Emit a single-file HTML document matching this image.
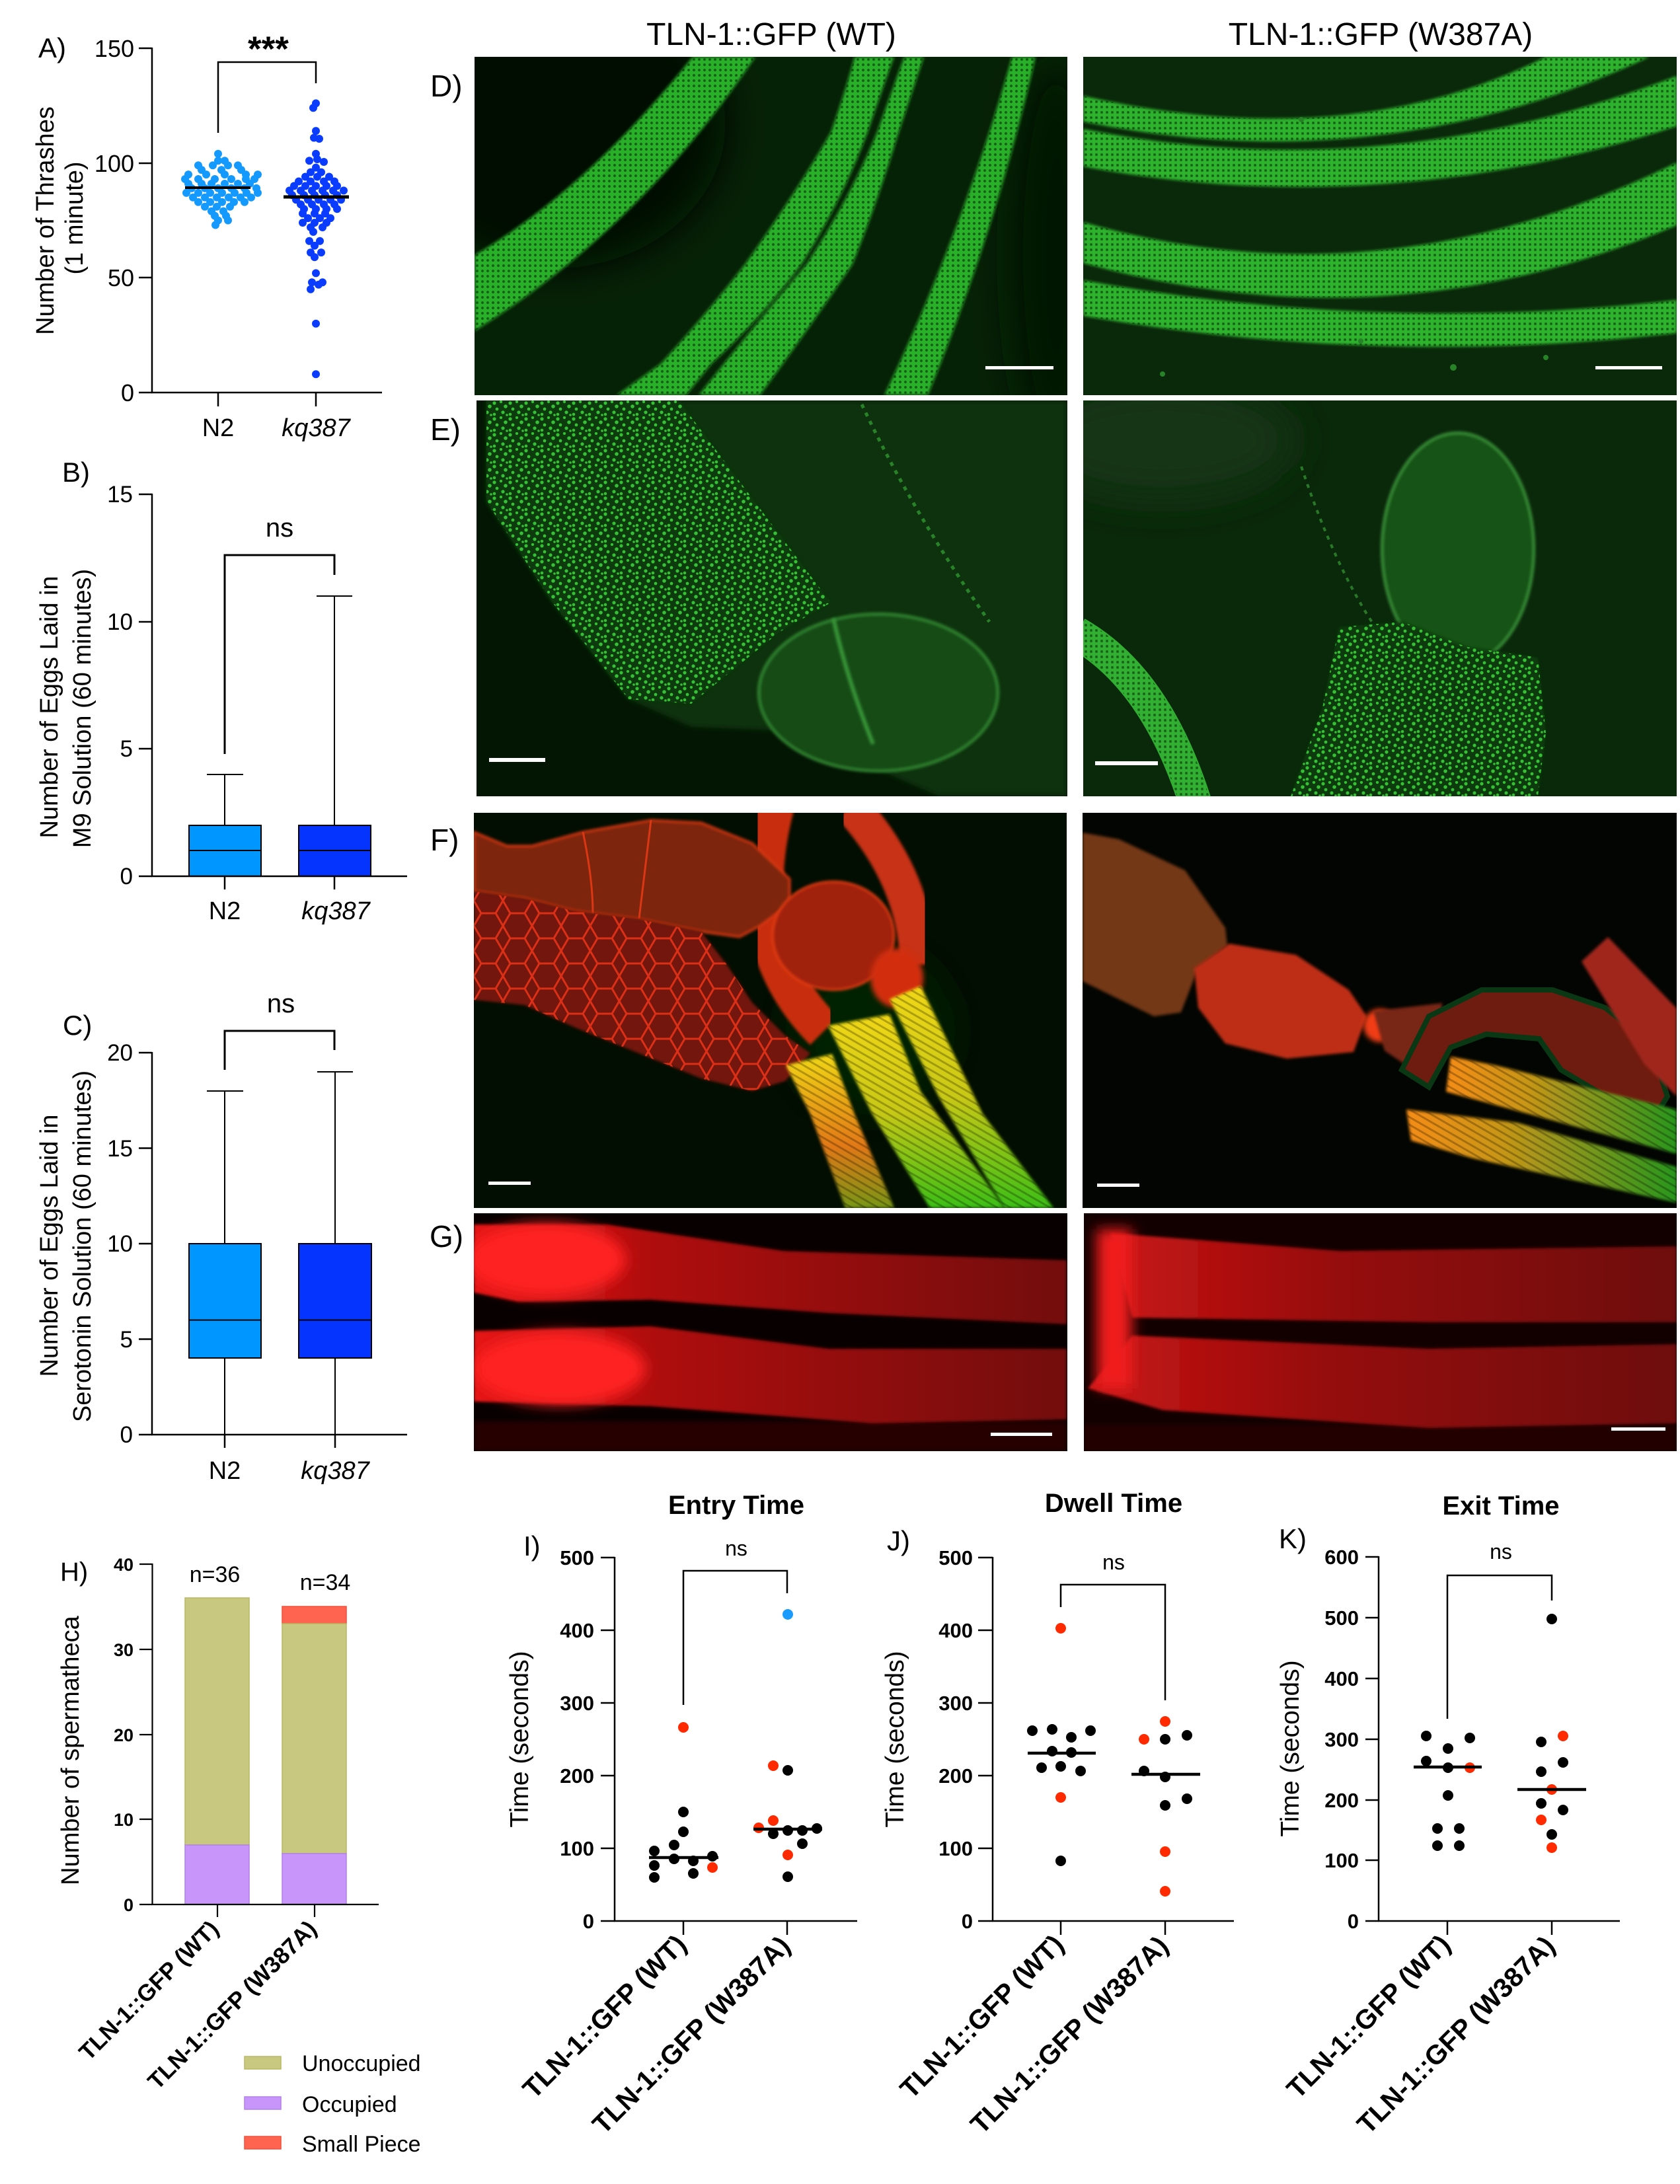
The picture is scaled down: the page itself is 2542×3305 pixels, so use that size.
<!DOCTYPE html>
<html><head><meta charset="utf-8"><style>html,body{margin:0;padding:0;background:#fff}svg{display:block}</style></head>
<body>
<svg xmlns="http://www.w3.org/2000/svg" width="2542" height="3305" viewBox="0 0 2542 3305" font-family="'Liberation Sans', Arial, sans-serif">
<defs>
<filter id="b2" x="-10%" y="-10%" width="120%" height="120%"><feGaussianBlur stdDeviation="2"/></filter>
<filter id="b4" x="-20%" y="-20%" width="140%" height="140%"><feGaussianBlur stdDeviation="4"/></filter>
<filter id="b10" x="-50%" y="-50%" width="200%" height="200%"><feGaussianBlur stdDeviation="10"/></filter>
<filter id="b30" x="-80%" y="-80%" width="260%" height="260%"><feGaussianBlur stdDeviation="30"/></filter>
<pattern id="spk" width="24" height="24" patternUnits="userSpaceOnUse"><g fill="rgb(60,215,60)"><circle cx="3" cy="4" r="2.6"/><circle cx="13" cy="2" r="2.2"/><circle cx="20" cy="9" r="2.8"/><circle cx="7" cy="13" r="2.4"/><circle cx="16" cy="18" r="2.6"/><circle cx="22" cy="22" r="1.8"/><circle cx="3" cy="21" r="2.3"/></g></pattern>
<pattern id="dkd" width="8" height="8" patternUnits="userSpaceOnUse"><circle cx="4" cy="4" r="2" fill="rgb(0,40,0)" opacity="0.55"/></pattern>
<pattern id="cells" width="44" height="38" patternUnits="userSpaceOnUse"><path d="M0 19 L11 0 L33 0 L44 19 L33 38 L11 38 Z" fill="none" stroke="rgb(245,55,25)" stroke-width="3"/></pattern>
<pattern id="musc" width="10" height="10" patternUnits="userSpaceOnUse" patternTransform="rotate(30)"><rect width="10" height="3" fill="rgba(0,0,0,0.25)"/></pattern>
<linearGradient id="ylg" x1="0" y1="0" x2="0" y2="1"><stop offset="0" stop-color="rgb(240,215,25)"/><stop offset="0.5" stop-color="rgb(200,200,20)"/><stop offset="1" stop-color="rgb(60,190,20)"/></linearGradient>
<linearGradient id="yla" x1="0" y1="0" x2="0" y2="1"><stop offset="0" stop-color="rgb(240,215,25)"/><stop offset="0.6" stop-color="rgb(225,120,20)"/><stop offset="1" stop-color="rgb(120,150,20)"/></linearGradient>
<linearGradient id="oglr" x1="0" y1="0" x2="1" y2="0"><stop offset="0" stop-color="rgb(245,140,20)"/><stop offset="0.35" stop-color="rgb(200,150,25)"/><stop offset="1" stop-color="rgb(40,150,30)"/></linearGradient>
<linearGradient id="gr1" x1="0" y1="0" x2="1" y2="0"><stop offset="0" stop-color="rgb(230,25,25)"/><stop offset="0.3" stop-color="rgb(175,15,15)"/><stop offset="1" stop-color="rgb(115,8,8)"/></linearGradient>
<linearGradient id="gr2" x1="0" y1="0" x2="1" y2="0"><stop offset="0" stop-color="rgb(200,20,20)"/><stop offset="0.4" stop-color="rgb(150,14,14)"/><stop offset="1" stop-color="rgb(110,10,10)"/></linearGradient>
</defs>
<rect width="2542" height="3305" fill="#fff"/>

<!-- ================= PANEL A ================= -->
<g fill="#000">
<text x="58" y="87" font-size="42">A)</text>
<g font-size="36" text-anchor="end"><text x="203" y="86">150</text><text x="203" y="260">100</text><text x="203" y="433">50</text><text x="203" y="607">0</text></g>
<text transform="translate(81,334) rotate(-90)" text-anchor="middle" font-size="38">Number of Thrashes</text>
<text transform="translate(125,330) rotate(-90)" text-anchor="middle" font-size="38">(1 minute)</text>
<text x="330" y="660" text-anchor="middle" font-size="38">N2</text>
<text x="478" y="660" text-anchor="middle" font-size="38" font-style="italic">kq387</text>
<text x="406" y="92" text-anchor="middle" font-size="53" font-weight="bold">***</text>
</g>
<g stroke="#000" stroke-width="2.5" fill="none">
<path d="M230 72 V594 H578"/>
<path d="M210 73H230M210 247H230M210 420H230M210 594H230M330 594V615M478 594V615"/>
<path d="M330 201 V94 H478 V126"/>
</g>
<g fill="#1499ff">
<circle cx="330" cy="232.8" r="6"/>
<circle cx="330" cy="243.2" r="6"/><circle cx="340" cy="243.2" r="6"/>
<circle cx="300" cy="250.2" r="6"/><circle cx="322" cy="250.2" r="6"/><circle cx="345" cy="250.2" r="6"/><circle cx="360" cy="250.2" r="6"/>
<circle cx="305" cy="257.1" r="6"/><circle cx="335" cy="257.1" r="6"/><circle cx="365" cy="257.1" r="6"/>
<circle cx="285" cy="264.1" r="6"/><circle cx="312" cy="264.1" r="6"/><circle cx="340" cy="264.1" r="6"/><circle cx="372" cy="264.1" r="6"/><circle cx="390" cy="264.1" r="6"/>
<circle cx="280" cy="271" r="6"/><circle cx="300" cy="271" r="6"/><circle cx="325" cy="271" r="6"/><circle cx="350" cy="271" r="6"/><circle cx="372" cy="271" r="6"/><circle cx="385" cy="271" r="6"/>
<circle cx="285" cy="278" r="6"/><circle cx="305" cy="278" r="6"/><circle cx="320" cy="278" r="6"/><circle cx="340" cy="278" r="6"/><circle cx="360" cy="278" r="6"/><circle cx="378" cy="278" r="6"/>
<circle cx="290" cy="284.9" r="6"/><circle cx="310" cy="284.9" r="6"/><circle cx="330" cy="284.9" r="6"/><circle cx="350" cy="284.9" r="6"/><circle cx="370" cy="284.9" r="6"/><circle cx="388" cy="284.9" r="6"/>
<circle cx="282" cy="291.9" r="6"/><circle cx="300" cy="291.9" r="6"/><circle cx="318" cy="291.9" r="6"/><circle cx="336" cy="291.9" r="6"/><circle cx="355" cy="291.9" r="6"/><circle cx="373" cy="291.9" r="6"/><circle cx="390" cy="291.9" r="6"/>
<circle cx="292" cy="298.8" r="6"/><circle cx="310" cy="298.8" r="6"/><circle cx="328" cy="298.8" r="6"/><circle cx="346" cy="298.8" r="6"/><circle cx="364" cy="298.8" r="6"/><circle cx="380" cy="298.8" r="6"/>
<circle cx="300" cy="305.7" r="6"/><circle cx="318" cy="305.7" r="6"/><circle cx="336" cy="305.7" r="6"/><circle cx="354" cy="305.7" r="6"/><circle cx="370" cy="305.7" r="6"/>
<circle cx="310" cy="312.7" r="6"/><circle cx="328" cy="312.7" r="6"/><circle cx="348" cy="312.7" r="6"/>
<circle cx="320" cy="319.6" r="6"/><circle cx="338" cy="319.6" r="6"/>
<circle cx="325" cy="326.6" r="6"/><circle cx="342" cy="326.6" r="6"/>
<circle cx="330" cy="333.5" r="6"/><circle cx="345" cy="333.5" r="6"/>
<circle cx="326" cy="340.5" r="6"/>
</g>
<g fill="#0a3cff">
<circle cx="478" cy="156.4" r="6"/><circle cx="474" cy="163.3" r="6"/><circle cx="478" cy="198.1" r="6"/>
<circle cx="475" cy="208.5" r="6"/><circle cx="483" cy="210" r="6"/><circle cx="478" cy="232.8" r="6"/>
<circle cx="468" cy="243.2" r="6"/><circle cx="480" cy="241" r="6"/><circle cx="490" cy="245" r="6"/>
<circle cx="478" cy="253.6" r="6"/><circle cx="470" cy="260.6" r="6"/><circle cx="486" cy="260.6" r="6"/>
<circle cx="462" cy="267.5" r="6"/><circle cx="480" cy="267.5" r="6"/><circle cx="498" cy="267.5" r="6"/>
<circle cx="452" cy="274.5" r="6"/><circle cx="470" cy="274.5" r="6"/><circle cx="490" cy="274.5" r="6"/><circle cx="506" cy="274.5" r="6"/>
<circle cx="445" cy="281.4" r="6"/><circle cx="462" cy="281.4" r="6"/><circle cx="478" cy="281.4" r="6"/><circle cx="494" cy="281.4" r="6"/><circle cx="510" cy="281.4" r="6"/>
<circle cx="438" cy="288.4" r="6"/><circle cx="455" cy="288.4" r="6"/><circle cx="472" cy="288.4" r="6"/><circle cx="488" cy="288.4" r="6"/><circle cx="504" cy="288.4" r="6"/><circle cx="520" cy="288.4" r="6"/>
<circle cx="442" cy="295.3" r="6"/><circle cx="460" cy="295.3" r="6"/><circle cx="476" cy="295.3" r="6"/><circle cx="492" cy="295.3" r="6"/><circle cx="510" cy="295.3" r="6"/>
<circle cx="448" cy="302.3" r="6"/><circle cx="466" cy="302.3" r="6"/><circle cx="482" cy="302.3" r="6"/><circle cx="500" cy="302.3" r="6"/><circle cx="516" cy="302.3" r="6"/>
<circle cx="455" cy="309.2" r="6"/><circle cx="472" cy="309.2" r="6"/><circle cx="490" cy="309.2" r="6"/><circle cx="506" cy="309.2" r="6"/>
<circle cx="460" cy="316.2" r="6"/><circle cx="478" cy="316.2" r="6"/><circle cx="494" cy="316.2" r="6"/><circle cx="510" cy="316.2" r="6"/>
<circle cx="458" cy="323.1" r="6"/><circle cx="476" cy="323.1" r="6"/><circle cx="492" cy="323.1" r="6"/>
<circle cx="466" cy="330.1" r="6"/><circle cx="484" cy="330.1" r="6"/><circle cx="500" cy="330.1" r="6"/>
<circle cx="458" cy="337" r="6"/><circle cx="476" cy="337" r="6"/><circle cx="494" cy="337" r="6"/>
<circle cx="470" cy="344" r="6"/><circle cx="488" cy="344" r="6"/><circle cx="474" cy="350.9" r="6"/>
<circle cx="468" cy="364.8" r="6"/><circle cx="484" cy="364.8" r="6"/><circle cx="476" cy="371.7" r="6"/>
<circle cx="470" cy="382.1" r="6"/><circle cx="486" cy="382.1" r="6"/><circle cx="476" cy="389.1" r="6"/>
<circle cx="478" cy="413.4" r="6"/><circle cx="472" cy="427.3" r="6"/><circle cx="488" cy="427.3" r="6"/><circle cx="482" cy="430.8" r="6"/><circle cx="470" cy="437.7" r="6"/>
<circle cx="478" cy="489.8" r="6"/><circle cx="478" cy="566.2" r="6"/>
</g>
<path d="M280 284H379" stroke="#000" stroke-width="4"/>
<path d="M429 298H528" stroke="#000" stroke-width="5"/>

<!-- ================= PANEL B ================= -->
<g fill="#000">
<text x="94" y="729" font-size="42">B)</text>
<g font-size="35" text-anchor="end"><text x="201" y="760">15</text><text x="201" y="953">10</text><text x="201" y="1145">5</text><text x="201" y="1338">0</text></g>
<text transform="translate(87,1070) rotate(-90)" text-anchor="middle" font-size="38">Number of Eggs Laid in</text>
<text transform="translate(137,1072) rotate(-90)" text-anchor="middle" font-size="38">M9 Solution (60 minutes)</text>
<text x="340" y="1391" text-anchor="middle" font-size="38">N2</text>
<text x="508" y="1391" text-anchor="middle" font-size="38" font-style="italic">kq387</text>
<text x="423" y="812" text-anchor="middle" font-size="40">ns</text>
</g>
<rect x="286" y="1249" width="109" height="77" fill="#0096ff" stroke="#000" stroke-width="2"/>
<rect x="452" y="1249" width="109" height="77" fill="#0533ff" stroke="#000" stroke-width="2"/>
<g stroke="#000" fill="none">
<path d="M286 1287H395M452 1287H561" stroke-width="2"/>
<path d="M340 1249V1172M313 1172H368M506 1249V902M479 902H533" stroke-width="2"/>
<path d="M230 747 V1326 H616" stroke-width="2.5"/>
<path d="M210 748H230M210 941H230M210 1133H230M210 1326H230M340 1326V1346M506 1326V1346" stroke-width="2.5"/>
<path d="M340 1141 V840 H506 V870" stroke-width="3"/>
</g>

<!-- ================= PANEL C ================= -->
<g fill="#000">
<text x="95" y="1566" font-size="42">C)</text>
<g font-size="35" text-anchor="end"><text x="201" y="1605">20</text><text x="201" y="1750">15</text><text x="201" y="1894">10</text><text x="201" y="2039">5</text><text x="201" y="2183">0</text></g>
<text transform="translate(87,1885) rotate(-90)" text-anchor="middle" font-size="38">Number of Eggs Laid in</text>
<text transform="translate(137,1886) rotate(-90)" text-anchor="middle" font-size="38">Serotonin Solution (60 minutes)</text>
<text x="340" y="2238" text-anchor="middle" font-size="38">N2</text>
<text x="507" y="2238" text-anchor="middle" font-size="38" font-style="italic">kq387</text>
<text x="425" y="1532" text-anchor="middle" font-size="40">ns</text>
</g>
<rect x="286" y="1882" width="109" height="173" fill="#0096ff" stroke="#000" stroke-width="2"/>
<rect x="452" y="1882" width="110" height="173" fill="#0533ff" stroke="#000" stroke-width="2"/>
<g stroke="#000" fill="none">
<path d="M286 1997.6H395M452 1997.6H562" stroke-width="2"/>
<path d="M340 1882V1651M313 1651H368M340 2055V2171M507 1882V1622M480 1622H534M507 2055V2171" stroke-width="2"/>
<path d="M230 1592 V2171 H616" stroke-width="2.5"/>
<path d="M210 1593H230M210 1737.5H230M210 1882H230M210 2026.5H230M210 2171H230M340 2171V2191M507 2171V2191" stroke-width="2.5"/>
<path d="M340 1619 V1560 H506 V1589" stroke-width="3"/>
</g>

<!-- ================= IMAGE TITLES/LABELS ================= -->
<g fill="#000" font-size="48">
<text x="1167" y="68" text-anchor="middle">TLN-1::GFP (WT)</text>
<text x="2089" y="68" text-anchor="middle">TLN-1::GFP (W387A)</text>
</g>
<g fill="#000" font-size="46">
<text x="651" y="146">D)</text>
<text x="651" y="666">E)</text>
<text x="651" y="1287">F)</text>
<text x="650" y="1887">G)</text>
</g>

<!-- D left -->
<svg x="718" y="86" width="897" height="512" viewBox="0 0 897 512">
<rect width="897" height="512" fill="rgb(6,34,6)"/>
<ellipse cx="120" cy="100" rx="260" ry="220" fill="rgb(0,14,0)" filter="url(#b30)"/>
<ellipse cx="880" cy="300" rx="70" ry="300" fill="rgb(0,18,0)" filter="url(#b30)"/>
<g id="dlb">
<path d="M0 300 Q170 200 330 0 L425 0 Q250 260 0 415 Z"/>
<path d="M215 512 L282 464 Q350 390 409 314 Q490 200 539 114 Q560 55 575 0 L635 0 Q615 55 595 114 Q555 220 495 314 Q430 400 359 464 L320 512 Z"/>
<path d="M339 512 Q420 410 502 314 Q570 210 609 114 Q630 55 650 0 L680 0 Q662 55 642 114 Q610 220 572 314 Q500 420 432 512 Z"/>
<path d="M620 512 Q740 260 813 0 L849 0 Q790 260 686 512 Z"/>
</g>
<g fill="rgb(42,175,42)" filter="url(#b2)">
<path d="M0 300 Q170 200 330 0 L425 0 Q250 260 0 415 Z"/>
<path d="M215 512 L282 464 Q350 390 409 314 Q490 200 539 114 Q560 55 575 0 L635 0 Q615 55 595 114 Q555 220 495 314 Q430 400 359 464 L320 512 Z"/>
<path d="M339 512 Q420 410 502 314 Q570 210 609 114 Q630 55 650 0 L680 0 Q662 55 642 114 Q610 220 572 314 Q500 420 432 512 Z"/>
<path d="M620 512 Q740 260 813 0 L849 0 Q790 260 686 512 Z"/>
</g>
<g fill="url(#dkd)">
<path d="M0 300 Q170 200 330 0 L425 0 Q250 260 0 415 Z"/>
<path d="M215 512 L282 464 Q350 390 409 314 Q490 200 539 114 Q560 55 575 0 L635 0 Q615 55 595 114 Q555 220 495 314 Q430 400 359 464 L320 512 Z"/>
<path d="M339 512 Q420 410 502 314 Q570 210 609 114 Q630 55 650 0 L680 0 Q662 55 642 114 Q610 220 572 314 Q500 420 432 512 Z"/>
<path d="M620 512 Q740 260 813 0 L849 0 Q790 260 686 512 Z"/>
</g>
<rect x="773" y="468" width="103" height="5" fill="#fff"/>
</svg>

<!-- D right -->
<svg x="1639" y="86" width="898" height="512" viewBox="0 0 898 512">
<rect width="898" height="512" fill="rgb(10,40,10)"/>
<g fill="rgb(45,178,45)" filter="url(#b2)">
<path d="M0 59 Q400 150 700 0 L857 0 Q450 190 0 98 Z"/>
<path d="M0 109 Q450 200 898 29 L898 105 Q450 250 0 166 Z"/>
<path d="M0 250 Q450 380 898 160 L898 255 Q460 440 0 312 Z"/>
<path d="M0 338 Q450 420 898 368 L898 418 Q450 470 0 392 Z"/>
</g>
<g fill="url(#dkd)">
<path d="M0 59 Q400 150 700 0 L857 0 Q450 190 0 98 Z"/>
<path d="M0 109 Q450 200 898 29 L898 105 Q450 250 0 166 Z"/>
<path d="M0 250 Q450 380 898 160 L898 255 Q460 440 0 312 Z"/>
<path d="M0 338 Q450 420 898 368 L898 418 Q450 470 0 392 Z"/>
</g>
<g fill="rgb(40,130,40)"><circle cx="420" cy="430" r="4"/><circle cx="560" cy="470" r="5"/><circle cx="120" cy="480" r="4"/><circle cx="700" cy="455" r="4"/><circle cx="330" cy="95" r="4"/></g>
<rect x="775" y="468" width="101" height="5" fill="#fff"/>
</svg>

<!-- E left -->
<svg x="721" y="606" width="894" height="599" viewBox="0 0 894 599">
<rect width="894" height="599" fill="rgb(3,22,3)"/>
<polygon points="15,0 894,0 894,599 700,599 600,555 494,501 325,494 230,452 115,306 15,153" fill="rgb(13,50,13)" filter="url(#b4)"/>
<ellipse cx="608" cy="442" rx="181" ry="119" fill="rgb(22,75,22)" stroke="rgb(50,135,50)" stroke-width="4" filter="url(#b2)"/>
<path d="M540 330 Q560 420 600 520" stroke="rgb(55,150,55)" stroke-width="6" fill="none" filter="url(#b2)"/>
<polygon points="15,0 306,0 421,153 536,306 459,350 325,459 230,452 115,306 15,153" fill="rgb(14,58,14)" filter="url(#b2)"/>
<polygon points="15,0 306,0 421,153 536,306 459,350 325,459 230,452 115,306 15,153" fill="url(#spk)" opacity="0.85"/>
<path d="M583 6 Q660 170 776 335" stroke="rgb(40,130,40)" stroke-width="5" stroke-dasharray="6 8" fill="none"/>
<rect x="19" y="541" width="85" height="6" fill="#fff"/>
</svg>

<!-- E right -->
<svg x="1639" y="606" width="898" height="599" viewBox="0 0 898 599">
<rect width="898" height="599" fill="rgb(10,40,10)"/>
<ellipse cx="120" cy="60" rx="200" ry="90" fill="rgb(18,52,18)" filter="url(#b30)"/>
<ellipse cx="567" cy="225" rx="115" ry="176" fill="rgb(24,82,24)" stroke="rgb(55,145,55)" stroke-width="4" filter="url(#b2)"/>
<polygon points="387,343 483,335 580,373 688,389 700,503 688,599 314,599 362,465" fill="rgb(14,58,14)" filter="url(#b2)"/>
<polygon points="387,343 483,335 580,373 688,389 700,503 688,599 314,599 362,465" fill="url(#spk)" opacity="0.85"/>
<path d="M-10 352 Q110 420 170 610" stroke="rgb(50,175,50)" stroke-width="50" fill="none"/>
<path d="M-10 352 Q110 420 170 610" stroke="url(#dkd)" stroke-width="46" fill="none"/>
<path d="M330 100 Q380 250 440 340" stroke="rgb(40,120,40)" stroke-width="4" stroke-dasharray="6 8" fill="none"/>
<rect x="18" y="546" width="95" height="6" fill="#fff"/>
</svg>

<!-- F left -->
<svg x="717" y="1230" width="897" height="598" viewBox="0 0 897 598">
<rect width="897" height="598" fill="rgb(2,14,2)"/>
<ellipse cx="600" cy="330" rx="120" ry="120" fill="rgb(6,32,6)" filter="url(#b30)"/>
<path d="M455 -10 Q400 200 530 330" stroke="rgb(200,45,15)" stroke-width="60" fill="none" filter="url(#b2)"/>
<path d="M570 -10 Q670 100 672 230" stroke="rgb(200,50,25)" stroke-width="55" fill="none" filter="url(#b2)"/>
<polygon points="0,29 50,50 88,50 165,29 268,11 344,15 421,46 478,100 478,138 432,172 402,188 344,180 249,161 153,149 77,130 0,119" fill="rgb(125,38,15)" stroke="rgb(220,55,20)" stroke-width="3" filter="url(#b2)"/>
<path d="M165 29 Q180 100 180 152 M268 11 Q260 80 250 160" stroke="rgb(220,55,20)" stroke-width="3" fill="none"/>
<polygon points="0,119 77,130 153,149 249,161 344,180 383,230 421,287 471,337 509,364 471,406 421,421 344,402 230,356 153,325 77,291 0,283" fill="rgb(115,22,8)" filter="url(#b2)"/>
<polygon points="0,119 77,130 153,149 249,161 344,180 383,230 421,287 471,337 509,364 471,406 421,421 344,402 230,356 153,325 77,291 0,283" fill="url(#cells)" opacity="0.8"/>
<ellipse cx="544" cy="186" rx="92" ry="82" fill="rgb(160,34,12)" stroke="rgb(230,60,20)" stroke-width="3" filter="url(#b2)"/>
<ellipse cx="640" cy="250" rx="40" ry="45" fill="rgb(210,45,12)" filter="url(#b4)"/>
<polygon points="472,382 542,365 576,456 636,598 562,598 509,456" fill="url(#yla)" filter="url(#b2)"/>
<polygon points="536,322 629,305 676,422 803,598 690,598 603,456" fill="url(#ylg)" filter="url(#b2)"/>
<polygon points="629,282 676,262 770,456 877,598 803,598 703,429" fill="url(#ylg)" filter="url(#b2)"/>
<g fill="url(#musc)"><polygon points="472,382 542,365 576,456 636,598 562,598 509,456"/><polygon points="536,322 629,305 676,422 803,598 690,598 603,456"/><polygon points="629,282 676,262 770,456 877,598 803,598 703,429"/></g>
<rect x="22" y="558" width="64" height="5" fill="#fff"/>
</svg>

<!-- F right -->
<svg x="1638" y="1230" width="899" height="598" viewBox="0 0 899 598">
<rect width="899" height="598" fill="rgb(2,5,2)"/>
<polygon points="0,30 55,40 155,87 216,174 219,201 175,235 149,302 108,308 0,255" fill="rgb(115,55,25)" filter="url(#b2)"/>
<polygon points="169,235 222,198 323,215 403,268 430,308 410,362 309,372 216,349 175,295" fill="rgb(190,45,20)" filter="url(#b2)"/>
<circle cx="450" cy="322" r="25" fill="rgb(240,60,20)" filter="url(#b4)"/>
<polygon points="440,300 544,288 540,340 500,389 457,360" fill="rgb(120,40,20)" filter="url(#b2)"/>
<path d="M483 389 L524 308 L604 268 L711 268 L791 295 L858 349 L885 429 L860 470 L724 389 L691 342 L611 335 L557 355 L524 415 Z" fill="rgb(110,28,15)" stroke="rgb(10,55,20)" stroke-width="8"/>
<polygon points="755,225 795,188 899,296 899,429 850,380" fill="rgb(160,40,30)" filter="url(#b2)"/>
<polygon points="557,369 624,382 899,449 899,516 550,422" fill="url(#oglr)" filter="url(#b2)"/>
<polygon points="490,449 658,469 899,536 899,590 591,523 497,496" fill="url(#oglr)" filter="url(#b2)"/>
<g fill="url(#musc)"><polygon points="557,369 624,382 899,449 899,516 550,422"/><polygon points="490,449 658,469 899,536 899,590 591,523 497,496"/></g>
<rect x="22" y="561" width="64" height="5" fill="#fff"/>
</svg>

<!-- G left -->
<svg x="717" y="1836" width="898" height="360" viewBox="0 0 898 360">
<rect width="898" height="360" fill="rgb(8,0,0)"/>
<rect y="315" width="898" height="45" fill="rgb(40,0,0)" filter="url(#b4)"/>
<polygon points="0,17 201,17 469,57 897,71 897,168 536,151 268,131 67,134 0,120" fill="url(#gr1)" filter="url(#b2)"/>
<polygon points="0,178 268,171 536,205 897,205 897,312 603,318 268,292 0,285" fill="url(#gr1)" filter="url(#b2)"/>
<ellipse cx="110" cy="70" rx="120" ry="55" fill="rgb(255,35,35)" filter="url(#b10)"/>
<ellipse cx="130" cy="235" rx="130" ry="55" fill="rgb(255,35,35)" filter="url(#b10)"/>
<rect x="782" y="332" width="93" height="5" fill="#fff"/>
</svg>

<!-- G right -->
<svg x="1640" y="1836" width="897" height="360" viewBox="0 0 897 360">
<rect width="897" height="360" fill="rgb(18,0,0)"/>
<rect y="320" width="897" height="40" fill="rgb(35,0,0)" filter="url(#b4)"/>
<polygon points="40,30 388,57 897,50 897,165 522,165 73,158" fill="url(#gr2)" filter="url(#b2)"/>
<polygon points="73,185 522,205 897,198 897,318 522,325 120,298 6,265" fill="url(#gr2)" filter="url(#b2)"/>
<rect x="19" y="24" width="54" height="241" fill="rgb(240,30,30)" filter="url(#b10)"/>
<rect x="798" y="324" width="82" height="5" fill="#fff"/>
</svg>

<!-- ================= PANEL H ================= -->
<g fill="#000">
<text x="91" y="2392" font-size="40">H)</text>
<g font-size="27" font-weight="bold" text-anchor="end"><text x="202" y="2377">40</text><text x="202" y="2506">30</text><text x="202" y="2635">20</text><text x="202" y="2763">10</text><text x="202" y="2892">0</text></g>
<text transform="translate(119,2649) rotate(-90)" text-anchor="middle" font-size="38">Number of spermatheca</text>
<text x="325" y="2394" text-anchor="middle" font-size="34">n=36</text>
<text x="492" y="2406" text-anchor="middle" font-size="34">n=34</text>
<g font-size="35" font-weight="bold" text-anchor="end">
<text transform="translate(333,2921) rotate(-45)">TLN-1::GFP (WT)</text>
<text transform="translate(481,2921) rotate(-45)">TLN-1::GFP (W387A)</text>
</g>
</g>
<rect x="280" y="2418" width="97" height="374" fill="rgb(200,200,128)" stroke="rgb(184,184,100)" stroke-width="1.5"/>
<rect x="280" y="2792" width="97" height="90" fill="rgb(200,150,250)" stroke="rgb(176,128,232)" stroke-width="1.5"/>
<rect x="427" y="2431" width="97" height="26" fill="rgb(255,100,80)" stroke="rgb(240,80,60)" stroke-width="1.5"/>
<rect x="427" y="2457" width="97" height="348" fill="rgb(200,200,128)" stroke="rgb(184,184,100)" stroke-width="1.5"/>
<rect x="427" y="2805" width="97" height="77" fill="rgb(200,150,250)" stroke="rgb(176,128,232)" stroke-width="1.5"/>
<g stroke="#000" stroke-width="2.2" fill="none">
<path d="M230.5 2366 V2882 H573"/>
<path d="M211 2367H230M211 2496H230M211 2625H230M211 2753H230M211 2882H230M329 2882V2901M476 2882V2901"/>
</g>
<rect x="370" y="3112" width="55" height="19" fill="rgb(200,200,128)" stroke="rgb(184,184,100)" stroke-width="1.5"/>
<rect x="370" y="3173" width="55" height="19" fill="rgb(200,150,250)" stroke="rgb(176,128,232)" stroke-width="1.5"/>
<rect x="370" y="3233" width="55" height="19" fill="rgb(255,100,80)" stroke="rgb(240,80,60)" stroke-width="1.5"/>
<g fill="#000" font-size="34">
<text x="457" y="3134">Unoccupied</text>
<text x="457" y="3196">Occupied</text>
<text x="457" y="3256">Small Piece</text>
</g>

<!-- ================= PANEL I ================= -->
<g fill="#000">
<text x="1114" y="2291" text-anchor="middle" font-size="40" font-weight="bold">Entry Time</text>
<text x="792" y="2354" font-size="42">I)</text>
<g font-size="31" font-weight="bold" text-anchor="end"><text x="899" y="2368">500</text><text x="899" y="2478">400</text><text x="899" y="2588">300</text><text x="899" y="2698">200</text><text x="899" y="2808">100</text><text x="899" y="2918">0</text></g>
<text transform="translate(799,2632) rotate(-90)" text-anchor="middle" font-size="39">Time (seconds)</text>
<text x="1114" y="2354" text-anchor="middle" font-size="32">ns</text>
<g font-size="41" font-weight="bold" text-anchor="end">
<text transform="translate(1041,2945) rotate(-45)">TLN-1::GFP (WT)</text>
<text transform="translate(1198,2947) rotate(-45)">TLN-1::GFP (W387A)</text>
</g>
</g>
<g stroke="#000" stroke-width="2.5" fill="none">
<path d="M930 2356 V2907 H1297"/>
<path d="M909 2357H930M909 2467H930M909 2577H930M909 2687H930M909 2797H930M909 2907H930M1034 2907V2928M1191 2907V2928"/>
<path d="M1034 2580 V2377 H1191 V2411"/>
</g>
<g>
<circle cx="1034" cy="2614" r="8" fill="#ff2a00"/><circle cx="1034" cy="2742" r="8"/><circle cx="1034" cy="2772" r="8"/><circle cx="1020" cy="2792" r="8"/><circle cx="990" cy="2801" r="8"/><circle cx="990" cy="2823" r="8"/><circle cx="1020" cy="2813" r="8"/><circle cx="1049" cy="2816" r="8"/><circle cx="1078" cy="2809" r="8"/><circle cx="1078" cy="2826" r="8" fill="#ff2a00"/><circle cx="1049" cy="2835" r="8"/><circle cx="990" cy="2841" r="8"/>
<circle cx="1192" cy="2443" r="8" fill="#1a9bff"/><circle cx="1170" cy="2672" r="8" fill="#ff2a00"/><circle cx="1192" cy="2679" r="8"/><circle cx="1148" cy="2766" r="8" fill="#ff2a00"/><circle cx="1170" cy="2755" r="8" fill="#ff2a00"/><circle cx="1192" cy="2770" r="8"/><circle cx="1214" cy="2770" r="8"/><circle cx="1236" cy="2767" r="8"/><circle cx="1170" cy="2775" r="8"/><circle cx="1214" cy="2790" r="8"/><circle cx="1192" cy="2807" r="8" fill="#ff2a00"/><circle cx="1192" cy="2840" r="8"/>
</g>
<path d="M982 2811H1087M1140 2768H1244" stroke="#000" stroke-width="4.5"/>

<!-- ================= PANEL J ================= -->
<g fill="#000">
<text x="1685" y="2288" text-anchor="middle" font-size="40" font-weight="bold">Dwell Time</text>
<text x="1342" y="2346" font-size="42">J)</text>
<g font-size="31" font-weight="bold" text-anchor="end"><text x="1472" y="2368">500</text><text x="1472" y="2478">400</text><text x="1472" y="2588">300</text><text x="1472" y="2698">200</text><text x="1472" y="2808">100</text><text x="1472" y="2918">0</text></g>
<text transform="translate(1367,2632) rotate(-90)" text-anchor="middle" font-size="39">Time (seconds)</text>
<text x="1685" y="2375" text-anchor="middle" font-size="32">ns</text>
<g font-size="41" font-weight="bold" text-anchor="end">
<text transform="translate(1612,2945) rotate(-45)">TLN-1::GFP (WT)</text>
<text transform="translate(1770,2947) rotate(-45)">TLN-1::GFP (W387A)</text>
</g>
</g>
<g stroke="#000" stroke-width="2.5" fill="none">
<path d="M1502 2356 V2907 H1867"/>
<path d="M1480 2357H1502M1480 2467H1502M1480 2577H1502M1480 2687H1502M1480 2797H1502M1480 2907H1502M1605 2907V2928M1763 2907V2928"/>
<path d="M1605 2432 V2398 H1763 V2573"/>
</g>
<g>
<circle cx="1605" cy="2464" r="8" fill="#ff2a00"/><circle cx="1562" cy="2619" r="8"/><circle cx="1592" cy="2617" r="8"/><circle cx="1621" cy="2629" r="8"/><circle cx="1650" cy="2619" r="8"/><circle cx="1592" cy="2650" r="8"/><circle cx="1621" cy="2652" r="8"/><circle cx="1576" cy="2675" r="8"/><circle cx="1605" cy="2673" r="8"/><circle cx="1635" cy="2680" r="8"/><circle cx="1605" cy="2720" r="8" fill="#ff2a00"/><circle cx="1605" cy="2816" r="8"/>
<circle cx="1763" cy="2605" r="8" fill="#ff2a00"/><circle cx="1731" cy="2632" r="8" fill="#ff2a00"/><circle cx="1763" cy="2632" r="8"/><circle cx="1796" cy="2626" r="8"/><circle cx="1731" cy="2680" r="8"/><circle cx="1763" cy="2689" r="8"/><circle cx="1763" cy="2732" r="8"/><circle cx="1796" cy="2722" r="8"/><circle cx="1763" cy="2802" r="8" fill="#ff2a00"/><circle cx="1763" cy="2862" r="8" fill="#ff2a00"/>
</g>
<path d="M1555 2653H1658M1712 2685H1816" stroke="#000" stroke-width="4.5"/>

<!-- ================= PANEL K ================= -->
<g fill="#000">
<text x="2271" y="2292" text-anchor="middle" font-size="40" font-weight="bold">Exit Time</text>
<text x="1935" y="2343" font-size="42">K)</text>
<g font-size="31" font-weight="bold" text-anchor="end"><text x="2056" y="2367">600</text><text x="2056" y="2459">500</text><text x="2056" y="2551">400</text><text x="2056" y="2643">300</text><text x="2056" y="2735">200</text><text x="2056" y="2826">100</text><text x="2056" y="2918">0</text></g>
<text transform="translate(1965,2646) rotate(-90)" text-anchor="middle" font-size="39">Time (seconds)</text>
<text x="2271" y="2359" text-anchor="middle" font-size="32">ns</text>
<g font-size="41" font-weight="bold" text-anchor="end">
<text transform="translate(2197,2945) rotate(-45)">TLN-1::GFP (WT)</text>
<text transform="translate(2355,2947) rotate(-45)">TLN-1::GFP (W387A)</text>
</g>
</g>
<g stroke="#000" stroke-width="2.5" fill="none">
<path d="M2086 2355 V2907 H2451"/>
<path d="M2066 2356H2086M2066 2448H2086M2066 2540H2086M2066 2632H2086M2066 2724H2086M2066 2815H2086M2066 2907H2086M2190 2907V2928M2348 2907V2928"/>
<path d="M2190 2601 V2384 H2348 V2422"/>
</g>
<g>
<circle cx="2158" cy="2627" r="8"/><circle cx="2224" cy="2630" r="8"/><circle cx="2191" cy="2646" r="8"/><circle cx="2158" cy="2665" r="8"/><circle cx="2191" cy="2675" r="8"/><circle cx="2224" cy="2675" r="8" fill="#ff2a00"/><circle cx="2191" cy="2717" r="8"/><circle cx="2175" cy="2767" r="8"/><circle cx="2208" cy="2767" r="8"/><circle cx="2175" cy="2793" r="8"/><circle cx="2208" cy="2793" r="8"/>
<circle cx="2348" cy="2450" r="8"/><circle cx="2365" cy="2627" r="8" fill="#ff2a00"/><circle cx="2332" cy="2636" r="8"/><circle cx="2332" cy="2681" r="8"/><circle cx="2365" cy="2667" r="8"/><circle cx="2348" cy="2708" r="8" fill="#ff2a00"/><circle cx="2332" cy="2729" r="8"/><circle cx="2365" cy="2739" r="8"/><circle cx="2332" cy="2754" r="8" fill="#ff2a00"/><circle cx="2348" cy="2776" r="8"/><circle cx="2348" cy="2796" r="8" fill="#ff2a00"/>
</g>
<path d="M2139 2674H2242M2296 2708H2400" stroke="#000" stroke-width="4.5"/>
</svg>
</body></html>
